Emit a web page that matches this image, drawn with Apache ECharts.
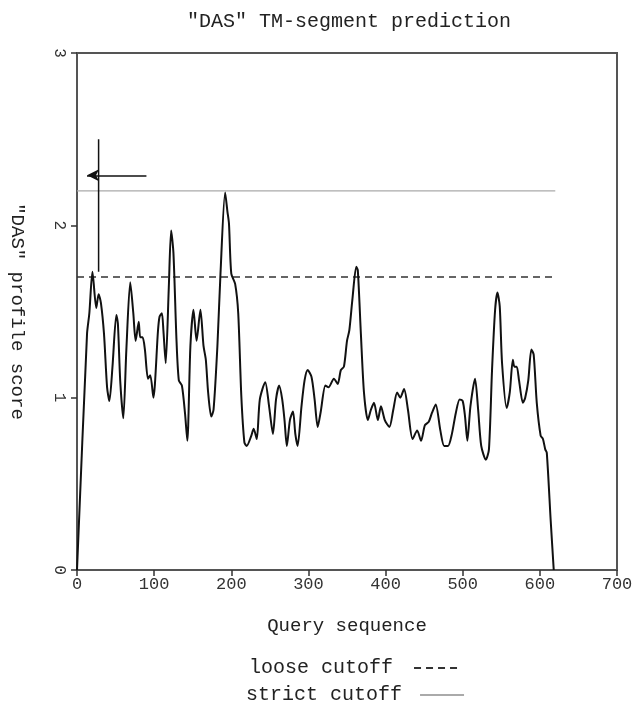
<!DOCTYPE html>
<html>
<head>
<meta charset="utf-8">
<script src="https://cdn.jsdelivr.net/npm/echarts@6/dist/echarts.min.js"></script>
<style>
  html, body { margin: 0; padding: 0; background: #fff; }
  #chart { width: 636px; height: 702px; }
</style>
</head>
<body>
<div id="chart"></div>
<script>
// residue positions and DAS profile scores
var positions = [0, 13, 16, 20, 25, 28, 31, 35, 39, 42, 46, 51, 53, 56, 60, 64, 69, 73, 76, 80,
  82, 85, 88, 92, 95, 99, 105, 107, 110, 112, 115, 119, 122, 125, 129, 132, 136, 140, 143, 147,
  151, 155, 160, 164, 167, 170, 174, 177, 182, 186, 192, 195, 197, 200, 205, 209, 213, 217, 220, 226,
  229, 233, 237, 244, 249, 254, 258, 262, 266, 269, 272, 276, 280, 283, 286, 291, 295, 299, 304, 308,
  312, 316, 322, 326, 333, 338, 342, 346, 350, 353, 357, 362, 364, 368, 372, 377, 381, 385, 390, 394,
  399, 405, 410, 415, 419, 424, 429, 435, 441, 446, 451, 456, 460, 465, 471, 476, 481, 486, 491, 496,
  500, 503, 506, 510, 516, 520, 524, 530, 534, 538, 542, 545, 548, 551, 557, 561, 565, 567, 570, 573,
  578, 581, 585, 589, 592, 596, 601, 604, 607, 609, 614, 618];
var scores = [0.00, 1.37, 1.49, 1.73, 1.52, 1.60, 1.55, 1.37, 1.06, 0.98, 1.18, 1.48, 1.43, 1.10, 0.88, 1.28, 1.67, 1.49, 1.33, 1.44,
  1.35, 1.35, 1.28, 1.11, 1.13, 1.00, 1.39, 1.47, 1.49, 1.39, 1.20, 1.64, 1.97, 1.84, 1.33, 1.10, 1.07, 0.91, 0.75, 1.30,
  1.51, 1.33, 1.51, 1.30, 1.22, 1.03, 0.89, 0.93, 1.30, 1.72, 2.19, 2.08, 2.01, 1.72, 1.66, 1.49, 1.01, 0.74, 0.72, 0.78,
  0.82, 0.76, 0.99, 1.09, 0.95, 0.79, 0.99, 1.07, 0.99, 0.87, 0.72, 0.87, 0.92, 0.79, 0.72, 0.95, 1.10, 1.16, 1.12, 0.99,
  0.83, 0.92, 1.07, 1.06, 1.11, 1.08, 1.16, 1.18, 1.33, 1.39, 1.57, 1.76, 1.74, 1.37, 1.03, 0.87, 0.93, 0.97, 0.87, 0.95,
  0.87, 0.83, 0.93, 1.03, 1.00, 1.05, 0.93, 0.76, 0.81, 0.75, 0.84, 0.86, 0.91, 0.96, 0.81, 0.72, 0.72, 0.79, 0.91, 0.99,
  0.98, 0.89, 0.75, 0.95, 1.11, 0.93, 0.72, 0.64, 0.70, 1.16, 1.51, 1.61, 1.53, 1.20, 0.94, 1.03, 1.22, 1.18, 1.18, 1.10,
  0.97, 1.00, 1.10, 1.28, 1.25, 0.97, 0.78, 0.76, 0.70, 0.68, 0.29, 0.00];

var seqLength = 620;
var looseCutoff = 1.7;
var strictCutoff = 2.2;
var xTicks = [0, 100, 200, 300, 400, 500, 600, 700];
var yTicks = [0, 1, 2, 3];

// arrow annotation near the N-terminus
var markerPos = 28;
var markerSpan = [1.73, 2.5];
var arrowFrom = [90, 2.29];
var arrowTo = [13, 2.29];

var font = '"Liberation Mono", "DejaVu Sans Mono", monospace';

var profile = positions.map(function (p, i) { return [p, scores[i]]; });

function legendBox(name, left, top, gap) {
  return {
    data: [name],
    left: left,
    top: top,
    align: 'right',
    itemWidth: 44,
    itemHeight: 10,
    selectedMode: false,
    itemStyle: { opacity: 0 },
    textStyle: { fontFamily: font, fontSize: 20, color: '#222', padding: [0, gap, 0, 0] }
  };
}

var chart = echarts.init(document.getElementById('chart'));
chart.setOption({
  animation: false,
  backgroundColor: '#fff',
  title: {
    text: '"DAS" TM-segment prediction',
    left: 344,
    textAlign: 'center',
    top: 7,
    textStyle: { fontFamily: font, fontSize: 20, fontWeight: 'normal', color: '#222' }
  },
  legend: [
    legendBox('loose cutoff', 244, 653, 16),
    legendBox('strict cutoff', 241, 680, 13)
  ],
  grid: {
    left: 75, right: 19, top: 53, bottom: 132,
    show: true, borderColor: '#555', borderWidth: 2
  },
  xAxis: {
    type: 'value',
    min: 0, max: 700, interval: 100,
    name: 'Query sequence',
    nameLocation: 'middle',
    nameGap: 46,
    nameTextStyle: { fontFamily: font, fontSize: 19, color: '#222' },
    axisLine: { lineStyle: { color: '#555', width: 2 } },
    axisTick: { length: 6, lineStyle: { color: '#333', width: 1.5 } },
    axisLabel: { fontFamily: font, fontSize: 17, color: '#333', margin: 6,
      formatter: function (v) { return xTicks.indexOf(v) >= 0 ? String(v) : ''; } },
    splitLine: { show: false }
  },
  yAxis: {
    type: 'value',
    min: 0, max: 3, interval: 1,
    name: '"DAS" profile score',
    nameLocation: 'middle',
    nameGap: 50,
    nameRotate: -90,
    nameTextStyle: { fontFamily: font, fontSize: 19, color: '#222' },
    axisLine: { lineStyle: { color: '#555', width: 2 } },
    axisTick: { length: 6, lineStyle: { color: '#333', width: 1.5 } },
    axisLabel: { fontFamily: font, fontSize: 16, color: '#333', rotate: -90, margin: 10,
      formatter: function (v) { return yTicks.indexOf(v) >= 0 ? String(v) : ''; } },
    splitLine: { show: false }
  },
  series: [
    {
      name: 'profile',
      type: 'line',
      data: profile,
      symbol: 'none',
      smooth: 0.25,
      lineStyle: { color: '#111', width: 2 },
      z: 5
    },
    {
      name: 'loose cutoff',
      type: 'line',
      data: [[0, looseCutoff], [seqLength, looseCutoff]],
      symbol: 'none',
      lineStyle: { color: '#333', width: 1.5, type: [7, 5] },
      itemStyle: { color: '#333' }
    },
    {
      name: 'strict cutoff',
      type: 'line',
      data: [[0, strictCutoff], [seqLength, strictCutoff]],
      symbol: 'none',
      lineStyle: { color: '#aaa', width: 1.2 },
      itemStyle: { color: '#aaa' }
    },
    {
      name: 'marker',
      type: 'line',
      data: [[markerPos, markerSpan[0]], [markerPos, markerSpan[1]]],
      symbol: 'none',
      lineStyle: { color: '#111', width: 1.5 },
      markLine: {
        silent: true,
        symbol: ['none', 'arrow'],
        symbolSize: [9, 12],
        label: { show: false },
        lineStyle: { color: '#111', width: 1.5, type: 'solid' },
        data: [[{ coord: arrowFrom }, { coord: arrowTo }]]
      }
    }
  ]
});
</script>
</body>
</html>
